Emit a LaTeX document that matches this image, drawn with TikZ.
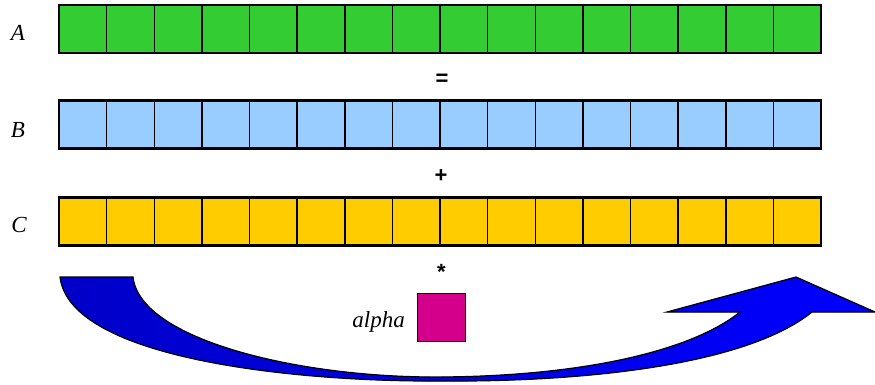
\documentclass[tikz,border=0pt]{standalone}
\usepackage{fontspec}
\setmainfont{Liberation Serif}
\newfontfamily\opfont{Liberation Sans}
\definecolor{cgreen}{RGB}{51,204,51}
\definecolor{cblue}{RGB}{153,204,255}
\definecolor{cyellow}{RGB}{255,204,0}
\definecolor{cmag}{RGB}{212,0,140}
\definecolor{adark}{RGB}{0,0,200}
\definecolor{alight}{RGB}{0,0,255}
\begin{document}
\begin{tikzpicture}[x=1pt,y=-1pt,
  cell/.style={draw=black,line width=1.5pt,minimum width=47.625pt,minimum height=48pt,inner sep=0pt,outer sep=0pt},
  frame/.style={draw=black,line width=2.8pt,minimum width=762pt,minimum height=48pt,inner sep=0pt},
  lbl/.style={font=\fontsize{23}{25}\selectfont\itshape,inner sep=0pt},
  op/.style={font=\opfont\bfseries\fontsize{22}{24}\selectfont,inner sep=0pt}]
\useasboundingbox (0,0) rectangle (875,385);
% rows
\foreach \r/\y/\c in {A/29/cgreen,B/124.5/cblue,C/221.5/cyellow}{
  \foreach \i in {0,...,15}{
    \node[cell,fill=\c] (\r\i) at ({59+(\i+0.5)*47.625},\y) {};
  }
  \node[frame] (\r row) at (440,\y) {};
}
\node[lbl] (la) at (18,33) {A};
\node[lbl] (lb) at (18,130) {B};
\node[lbl] (lc) at (19,225) {C};
\node[op] (eq) at (442,80) {=};
\node[op] (pl) at (441,176) {+};
\node[op] (st) at (441.5,272) {*};
\node[draw=black,line width=0.8pt,fill=cmag,minimum width=48pt,minimum height=48pt,inner sep=0pt] (al) at (441.5,317) {};
\node[lbl,anchor=east] (alab) at (405,322) {alpha};
% arrow
\filldraw[draw=black,line width=1.2pt,left color=adark,right color=alight]
  (60,277) -- (133,277)
  .. controls (140,340) and (300,378) .. (441,377)
  .. controls (580,376) and (690,352) .. (740,312)
  -- (667,312) -- (796,277) -- (875,312) -- (812,312)
  .. controls (740,370) and (560,382) .. (441,381)
  .. controls (300,382) and (70,360) .. (60,277) -- cycle;
\end{tikzpicture}
\end{document}
